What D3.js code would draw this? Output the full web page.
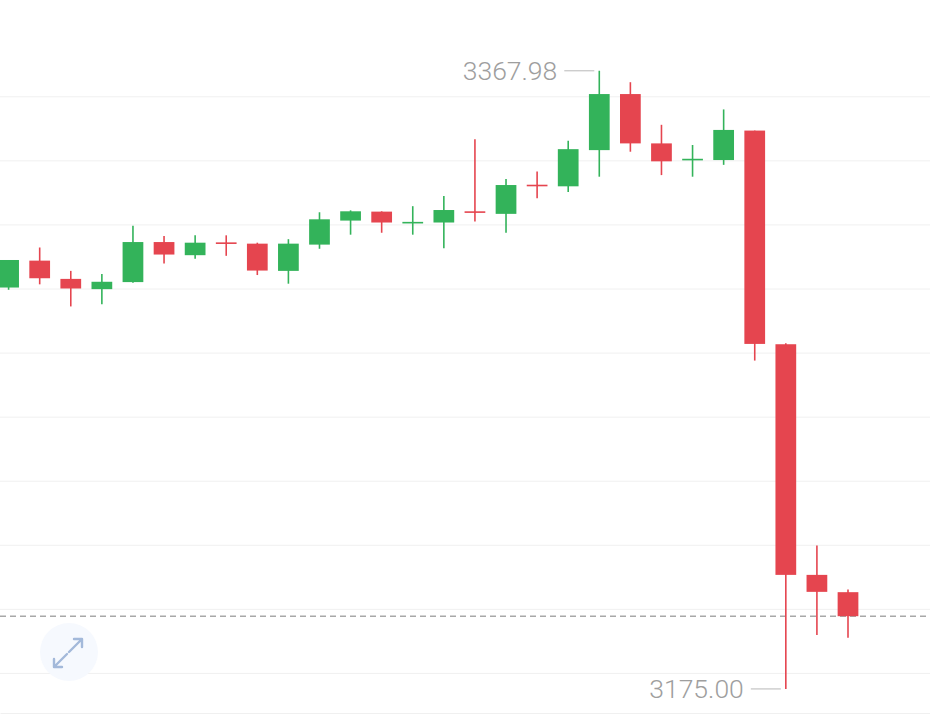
<!DOCTYPE html>
<html>
<head>
<meta charset="utf-8">
<script src="https://cdn.jsdelivr.net/npm/d3@7"></script>
<style>
  html, body { margin: 0; padding: 0; background: #fff; overflow: hidden; }
  svg { display: block; }
</style>
</head>
<body>
<svg></svg>
<script>
// candle data (one entry per bar, left to right)
const bars  = d3.range(28);
const open  = [3300.3, 3308.7, 3303.0, 3299.8, 3302.0, 3314.5, 3310.4, 3314.4, 3314.0, 3305.5,
               3313.7, 3321.2, 3324.0, 3320.6, 3320.6, 3324.1, 3323.3, 3332.4, 3331.9, 3343.2,
               3360.7, 3345.3, 3340.3, 3340.1, 3349.3, 3282.6, 3210.6, 3205.2];
const high  = [3308.9, 3312.8, 3305.5, 3304.5, 3319.6, 3316.4, 3316.6, 3316.6, 3314.3, 3315.4,
               3323.8, 3324.4, 3324.1, 3325.7, 3328.9, 3346.6, 3334.2, 3336.5, 3346.1, 3367.98,
               3364.4, 3351.1, 3344.8, 3355.9, 3349.3, 3282.9, 3219.8, 3206.0];
const low   = [3299.6, 3301.3, 3294.4, 3295.1, 3301.8, 3307.8, 3309.3, 3310.2, 3304.2, 3301.5,
               3312.4, 3316.8, 3317.4, 3316.8, 3312.6, 3320.9, 3317.4, 3328.2, 3330.1, 3334.9,
               3342.7, 3335.4, 3334.9, 3338.6, 3277.5, 3175.00, 3191.8, 3191.0];
const close = [3308.9, 3303.2, 3300.0, 3302.1, 3314.5, 3310.6, 3314.3, 3314.2, 3305.6, 3314.0,
               3321.6, 3324.1, 3320.6, 3320.8, 3324.5, 3323.7, 3332.3, 3332.1, 3343.5, 3360.7,
               3345.3, 3339.7, 3340.5, 3349.5, 3282.7, 3210.6, 3205.3, 3197.7];
const gridValues = d3.range(3180, 3361, 20);

const data = bars.map(i => ({ i, o: open[i], h: high[i], l: low[i], c: close[i] }));

const W = 930, H = 722;
const up = "#33b35a", down = "#e5454f";

const svg = d3.select("svg").attr("width", W).attr("height", H);

const x = d3.scaleLinear().domain([0, 27]).range([8.6, 848]);
const y = d3.scaleLinear().domain([3180, 3360]).range([672.9, 96.3]);
const bw = (x(1) - x(0)) * 0.667;

// horizontal grid
svg.append("g")
   .attr("transform", `translate(${W},0)`)
   .call(d3.axisLeft(y).tickValues(gridValues).tickSize(W).tickFormat(""))
   .call(g => g.select(".domain").remove())
   .call(g => g.selectAll(".tick line").attr("stroke", "#f0f0f0").attr("stroke-width", 1));

// bottom baseline
svg.append("g")
   .attr("transform", "translate(0,713)")
   .call(d3.axisBottom(d3.scaleLinear().range([0, W])).ticks(0).tickSizeOuter(0))
   .call(g => g.select(".domain").attr("stroke", "#f0f0f0"));

// current price line
const last = close[close.length - 1];
svg.append("line")
   .attr("x1", 0).attr("x2", W)
   .attr("y1", y(last)).attr("y2", y(last))
   .attr("stroke", "#a8a8a8")
   .attr("stroke-width", 1.5)
   .attr("stroke-dasharray", "6,4");

// candles
const candle = svg.selectAll(".candle")
  .data(data)
  .enter().append("g")
  .attr("class", "candle")
  .attr("fill", d => d.c >= d.o ? up : down)
  .attr("stroke", d => d.c >= d.o ? up : down);

candle.append("line")
  .attr("x1", d => x(d.i)).attr("x2", d => x(d.i))
  .attr("y1", d => y(d.h)).attr("y2", d => y(d.l))
  .attr("stroke-width", 1.6);

candle.append("rect")
  .attr("stroke", "none")
  .attr("x", d => x(d.i) - bw / 2)
  .attr("width", bw)
  .attr("y", d => y(Math.max(d.o, d.c)))
  .attr("height", d => Math.max(1.6, Math.abs(y(d.o) - y(d.c))));

// max / min markers
const hiIdx = d3.maxIndex(high), loIdx = d3.minIndex(low);
function marker(i, v) {
  const cx = x(i), cy = y(v);
  svg.append("line")
     .attr("x1", cx - 35).attr("x2", cx - 5)
     .attr("y1", cy).attr("y2", cy)
     .attr("stroke", "#c8c8c8").attr("stroke-width", 1.3);
  svg.append("text")
     .attr("x", cx - 42).attr("y", cy)
     .attr("dy", "0.36em")
     .attr("text-anchor", "end")
     .attr("font-family", "Roboto, sans-serif")
     .attr("font-weight", 300)
     .attr("font-size", 26.5)
     .attr("fill", "#9e9e9e")
     .text(v.toFixed(2));
}
marker(hiIdx, high[hiIdx]);
marker(loIdx, low[loIdx]);

// expand button
const btn = svg.append("g").attr("transform", "translate(69,652)");
btn.append("circle").attr("r", 29).attr("fill", "#f6f9fe");
btn.append("path")
   .attr("d", "M0,0 L13,-13 M5,-13 L13,-13 L13,-5 M-2,2 L-15,15 M-15,7 L-15,15 L-7,15")
   .attr("fill", "none")
   .attr("stroke", "#a3b9da")
   .attr("stroke-width", 2.4)
   .attr("stroke-linecap", "round")
   .attr("stroke-linejoin", "round");
</script>
</body>
</html>
